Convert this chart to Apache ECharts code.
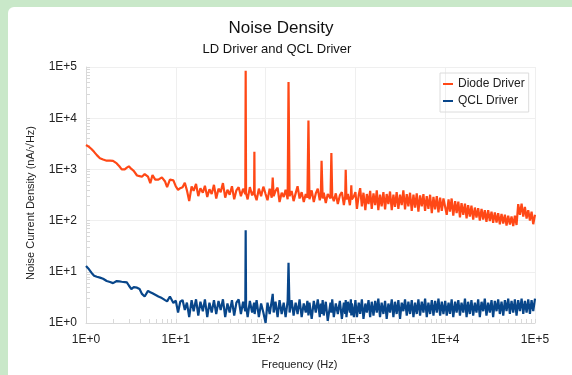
<!DOCTYPE html>
<html>
<head>
<meta charset="utf-8">
<title>Noise Density</title>
<script src="https://cdn.jsdelivr.net/npm/echarts/dist/echarts.min.js"></script>
<style>
  html, body { margin: 0; padding: 0; width: 572px; height: 375px; overflow: hidden; background: #c9e8c9; }
  #panel { position: absolute; left: 8px; top: 7px; right: 0; bottom: 0; background: #fff; border-top-left-radius: 6px; }
  #chart { position: absolute; left: 0; top: 0; width: 572px; height: 375px; }
</style>
</head>
<body>
<div id="panel"></div>
<div id="chart"></div>
<script>
// frequencies (Hz), one line per decade
const freqHz = [
  1, 1.08, 1.15, 1.23, 1.32, 1.43, 1.55, 1.7, 1.85, 2, 2.2, 2.35, 2.5, 2.7, 2.85, 3, 3.2, 3.4, 3.7, 3.95, 4.2, 4.5, 4.9, 5.2, 5.5, 5.9, 6.4, 7, 7.6, 8, 8.6, 9.4,
  10, 10.6, 11.2, 11.9, 12.6, 13.3, 14.1, 15, 15.8, 16.8, 17.8, 18.8, 20, 21.1, 22.4, 23.7, 25.1, 26.6, 28.2, 29.9, 31.6, 33.5, 35.5, 37.6, 39.8, 42.2, 44.7, 47.3, 50.1, 53.1, 56.2, 59.4, 60, 60.6, 63.1, 66.8, 70.8, 74.5, 75, 75.5, 79.4, 84.1, 89.1, 94.4,
  100, 105, 111, 117, 120, 123, 129, 136, 143, 151, 159, 167, 176, 180, 185, 195, 205, 216, 227, 239, 252, 266, 280, 292, 300, 308, 326, 344, 362, 381, 401, 412, 420, 432, 444, 468, 492, 528, 540, 552, 575, 605, 637, 671, 707, 744, 770, 780, 795, 825, 868, 890, 900, 914, 963,
  1000, 1040, 1090, 1130, 1180, 1230, 1290, 1340, 1400, 1460, 1520, 1590, 1660, 1730, 1800, 1880, 1960, 2050, 2140, 2230, 2330, 2430, 2540, 2650, 2760, 2880, 3010, 3140, 3280, 3420, 3570, 3730, 3890, 4060, 4240, 4430, 4620, 4820, 5030, 5250, 5480, 5720, 5970, 6230, 6500, 6790, 7090, 7400, 7720, 8060, 8410, 8780, 9160, 9560,
  10000, 10400, 10900, 11300, 11800, 12300, 12900, 13400, 14000, 14600, 15200, 15900, 16600, 17300, 18000, 18800, 19600, 20500, 21400, 22300, 23300, 24300, 25400, 26500, 27600, 28800, 30100, 31400, 32800, 34200, 35700, 37300, 38900, 40600, 42400, 44300, 46200, 48200, 50300, 52500, 54800, 57200, 59700, 62300, 65000, 67900, 70900, 74000, 77200, 80600, 84100, 87800, 91600, 95600, 100000
];

// Diode Driver noise (nA/√Hz)
const diodeDriver = [
  3000, 2750, 2500, 2200, 1900, 1650, 1560, 1480, 1480, 1470, 1310, 1150, 1000, 1000, 1080, 1150, 1020, 940, 760, 740, 720, 810, 720, 540, 780, 630, 630, 700, 580, 450, 630, 610,
  465, 400, 430, 450, 550, 390, 240, 465, 380, 520, 300, 430, 350, 480, 290, 410, 330, 500, 270, 420, 360, 540, 280, 400, 320, 470, 260, 390, 450, 300, 420, 330, 84000, 340, 260, 450, 310, 390, 2200, 330, 250, 420, 300, 460,
  330, 250, 420, 280, 690, 300, 380, 440, 230, 350, 290, 400, 260, 51000, 300, 380, 240, 340, 470, 270, 360, 230, 330, 280, 9000, 260, 390, 230, 340, 420, 250, 320, 1470, 270, 350, 220, 330, 270, 2090, 300, 240, 340, 210, 310, 360, 200, 300, 980, 260, 330, 200, 300, 490, 260, 300,
  360, 170, 320, 430, 190, 350, 160, 330, 210, 380, 170, 340, 200, 390, 160, 320, 190, 360, 165, 330, 210, 370, 160, 320, 185, 360, 170, 320, 200, 390, 165, 330, 190, 350, 155, 320, 180, 340, 150, 310, 190, 330, 155, 300, 170, 320, 140, 290, 165, 300, 145, 280, 155, 270,
  290, 130, 260, 150, 270, 125, 240, 140, 235, 115, 220, 130, 215, 110, 200, 120, 195, 105, 180, 115, 175, 100, 170, 105, 160, 95, 160, 98, 150, 90, 145, 92, 140, 85, 135, 88, 130, 80, 125, 84, 120, 78, 125, 82, 210, 130, 215, 120, 185, 110, 160, 100, 150, 85, 130
];

// QCL Driver noise (nA/√Hz)
const qclDriver = [
  13, 11.2, 9.6, 8.4, 8.0, 7.7, 7.3, 6.6, 6.3, 6.0, 6.6, 6.5, 6.4, 6.3, 6.2, 5.4, 4.6, 5.0, 4.9, 4.6, 3.7, 3.3, 4.25, 4.0, 3.8, 3.56, 3.3, 3.07, 2.8, 2.65, 3.3, 2.46,
  2.73, 1.6, 2.6, 2.8, 1.8, 2.5, 1.3, 2.8, 1.7, 2.9, 1.4, 2.6, 1.7, 2.9, 1.3, 2.5, 1.6, 2.8, 1.5, 2.7, 1.8, 2.9, 1.3, 2.4, 1.6, 2.8, 1.4, 2.5, 2.9, 1.5, 2.6, 1.7, 65, 2.2, 1.3, 2.7, 1.6, 2.5, 2.1, 1.5, 2.8, 1.3, 2.4, 1.6,
  1.0, 2.5, 1.5, 2.7, 3.7, 1.6, 2.6, 1.3, 2.8, 1.5, 2.5, 1.3, 2.7, 15, 1.6, 2.8, 1.4, 2.5, 1.5, 2.9, 1.3, 2.4, 1.6, 2.7, 1.4, 2.5, 1.2, 2.7, 1.6, 2.9, 1.3, 2.4, 1.5, 2.8, 1.4, 2.6, 1.1, 2.5, 1.6, 2.9, 1.3, 2.4, 1.5, 2.7, 1.2, 2.5, 1.5, 2.8, 1.3, 2.6, 1.6, 2.9, 1.4, 2.4, 1.3,
  2.8, 1.3, 2.5, 1.5, 2.9, 1.2, 2.4, 1.6, 2.8, 1.3, 2.6, 1.4, 2.7, 1.6, 3.0, 1.3, 2.5, 1.5, 2.7, 1.2, 2.4, 1.6, 2.9, 1.3, 2.6, 1.5, 2.8, 1.2, 2.5, 1.7, 2.9, 1.4, 2.6, 1.5, 2.8, 1.3, 2.5, 1.5, 2.9, 1.4, 2.6, 1.6, 3.0, 1.3, 2.5, 1.5, 2.8, 1.4, 2.7, 1.6, 3.0, 1.4, 2.6, 1.5,
  2.7, 1.4, 2.5, 1.5, 2.9, 1.3, 2.6, 1.6, 2.8, 1.4, 2.5, 1.6, 3.0, 1.3, 2.6, 1.5, 2.8, 1.4, 2.5, 1.6, 2.9, 1.3, 2.6, 1.7, 3.0, 1.4, 2.5, 1.6, 2.8, 1.3, 2.7, 1.7, 2.9, 1.5, 2.6, 1.4, 2.8, 1.7, 3.0, 1.5, 2.7, 1.6, 2.9, 1.4, 2.8, 1.7, 3.0, 1.5, 2.7, 1.6, 2.9, 1.5, 2.8, 1.7, 3.0
];

const decadeLabels = ["1E+0", "1E+1", "1E+2", "1E+3", "1E+4", "1E+5"];
const seriesNames = ["Diode Driver", "QCL Driver"];

if (diodeDriver.length !== freqHz.length || qclDriver.length !== freqHz.length) {
  console.warn("length mismatch", freqHz.length, diodeDriver.length, qclDriver.length);
}

// tick positions 1..9 per decade
const logTicks = [];
for (let d = 1; d < 100000; d *= 10) {
  for (let m = 1; m < 10; m++) logTicks.push(m * d);
}
logTicks.push(100000);

const fontFamily = "'Liberation Sans', Arial, sans-serif";
const labelOf = (v) => decadeLabels[Math.round(Math.log10(v))] || "";

// main axis: line, ticks, labels (no grid lines)
function logAxis(extra) {
  return Object.assign({
    type: "log",
    logBase: 10,
    min: 1,
    max: 100000,
    axisLine: { show: true, lineStyle: { color: "#d9d9d9", width: 1 } },
    axisTick: { show: true, inside: true, length: 4, customValues: logTicks, lineStyle: { color: "#d9d9d9" } },
    splitLine: { show: false },
    nameLocation: "middle",
  }, extra);
}

// overlay axis that only draws the decade grid lines
function gridAxis(pos) {
  return {
    type: "log",
    logBase: 10,
    min: 1,
    max: 100000,
    position: pos,
    axisLine: { show: false },
    axisTick: { show: false },
    axisLabel: { show: false },
    splitLine: { show: true, lineStyle: { color: "#efefef", width: 1 } },
  };
}

const chart = echarts.init(document.getElementById("chart"), null, { renderer: "canvas" });
chart.setOption({
  animation: false,
  backgroundColor: "transparent",
  title: [
    { text: "Noise Density", left: 276, top: 15, textAlign: "center",
      textStyle: { fontSize: 17, fontWeight: "normal", color: "#111", fontFamily: fontFamily } },
    { text: "LD Driver and QCL Driver", left: 272, top: 38, textAlign: "center",
      textStyle: { fontSize: 13, fontWeight: "normal", color: "#111", fontFamily: fontFamily } },
  ],
  legend: {
    data: seriesNames,
    orient: "vertical",
    left: 440,
    top: 73,
    padding: [5, 4, 5, 3],
    itemGap: 5,
    itemWidth: 10,
    itemHeight: 2,
    icon: "rect",
    borderColor: "#dcdcdc",
    borderWidth: 1,
    textStyle: { color: "#222", fontSize: 12, fontFamily: fontFamily },
  },
  grid: { left: 86, right: 37, top: 67, bottom: 48, containLabel: false },
  xAxis: [
    logAxis({
      name: "Frequency (Hz)",
      nameGap: 36,
      nameTextStyle: { color: "#222", fontSize: 11, fontFamily: fontFamily, padding: [0, 22, 0, 0] },
      axisLabel: { color: "#222", fontSize: 12, fontFamily: fontFamily, formatter: labelOf, margin: 11 },
    }),
    gridAxis("top"),
  ],
  yAxis: [
    logAxis({
      name: "Noise Current Density (nA/√Hz)",
      nameGap: 50,
      nameTextStyle: { color: "#222", fontSize: 11, fontFamily: fontFamily, padding: [0, 16, 0, 0] },
      axisLabel: { color: "#222", fontSize: 12, fontFamily: fontFamily, formatter: labelOf, margin: 9 },
    }),
    gridAxis("right"),
  ],
  series: [
    {
      name: seriesNames[0],
      type: "line",
      xAxisIndex: 0,
      yAxisIndex: 0,
      data: freqHz.map((f, i) => [f, diodeDriver[i]]),
      showSymbol: false,
      lineStyle: { color: "#ff4816", width: 2.2 },
      itemStyle: { color: "#ff4816" },
      z: 3,
    },
    {
      name: seriesNames[1],
      type: "line",
      xAxisIndex: 0,
      yAxisIndex: 0,
      data: freqHz.map((f, i) => [f, qclDriver[i]]),
      showSymbol: false,
      lineStyle: { color: "#08468a", width: 2.2 },
      itemStyle: { color: "#08468a" },
      z: 2,
    },
  ],
});
</script>
</body>
</html>
